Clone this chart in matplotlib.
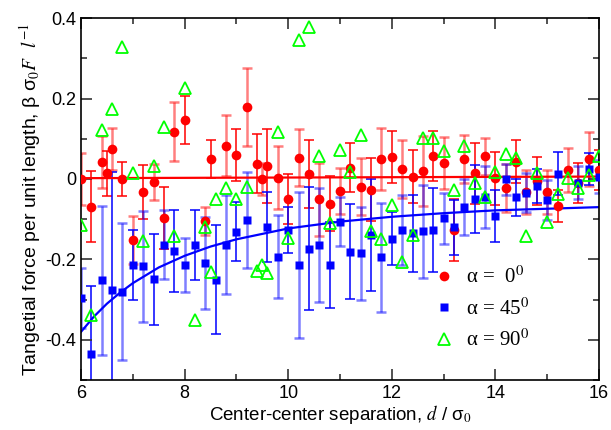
import matplotlib
matplotlib.use('Agg')
import matplotlib.pyplot as plt
from matplotlib.ticker import MultipleLocator

# alpha = 0 deg
x0 = [6.0, 6.2, 6.4, 6.5, 6.6, 6.8, 7.0, 7.2, 7.4, 7.6, 7.8, 8.0, 8.4, 8.5, 8.8,
      9.0, 9.2, 9.4, 9.5, 9.6, 9.8, 10.0, 10.2, 10.4, 10.6, 10.8, 11.0, 11.2, 11.4,
      11.6, 11.8, 12.0, 12.2, 12.4, 12.6, 12.8, 13.0, 13.2, 13.4, 13.6, 13.8, 14.0,
      14.2, 14.4, 14.6, 14.8, 15.0, 15.2, 15.4, 15.6, 15.8, 16.0]
y0 = [0.0, -0.069, 0.043, 0.014, 0.075, 0.0, -0.152, -0.032, -0.008, -0.097, 0.118,
      0.147, -0.104, 0.05, 0.083, 0.06, 0.178, 0.038, 0.0, 0.032, 0.003, -0.05,
      0.053, 0.013, -0.051, -0.061, -0.03, 0.028, -0.019, -0.027, 0.049, 0.054,
      0.025, 0.006, 0.02, 0.057, 0.039, -0.127, 0.05, 0.014, 0.056, 0.002, -0.022,
      0.043, -0.032, -0.005, -0.032, -0.067, 0.022, -0.01, 0.05, 0.022]
e0 = [0.065, 0.088, 0.065, 0.056, 0.052, 0.043, 0.06, 0.067, 0.045, 0.077, 0.073,
      0.06, 0.035, 0.048, 0.076, 0.064, 0.097, 0.073, 0.04, 0.092, 0.078, 0.062,
      0.07, 0.085, 0.09, 0.068, 0.058, 0.061, 0.07, 0.078, 0.077, 0.065, 0.072,
      0.065, 0.088, 0.062, 0.065, 0.077, 0.059, 0.076, 0.046, 0.066, 0.06, 0.054,
      0.055, 0.06, 0.055, 0.04, 0.055, 0.05, 0.067, 0.05]

# alpha = 45 deg
x45 = [6.0, 6.2, 6.4, 6.6, 6.8, 7.0, 7.2, 7.4, 7.6, 7.8, 8.0, 8.2, 8.4, 8.6, 8.8,
       9.0, 9.2, 9.6, 9.8, 10.0, 10.2, 10.4, 10.6, 10.8, 11.0, 11.2, 11.4, 11.6,
       11.8, 12.0, 12.2, 12.4, 12.6, 12.8, 13.0, 13.2, 13.4, 13.6, 13.8, 14.0,
       14.2, 14.4, 14.6, 14.8, 15.0, 15.2, 15.6, 15.8, 16.0]
y45 = [-0.296, -0.434, -0.252, -0.275, -0.28, -0.214, -0.217, -0.249, -0.163,
       -0.179, -0.214, -0.164, -0.208, -0.25, -0.163, -0.131, -0.102, -0.12,
       -0.193, -0.127, -0.214, -0.173, -0.164, -0.214, -0.106, -0.181, -0.185,
       -0.139, -0.195, -0.148, -0.127, -0.135, -0.13, -0.127, -0.098, -0.12,
       -0.07, -0.05, -0.044, -0.092, -0.001, -0.046, -0.034, -0.017, -0.052,
       0.013, -0.009, 0.024, 0.006]
e45 = [0.075, 0.168, 0.185, 0.293, 0.17, 0.087, 0.138, 0.113, 0.085, 0.103, 0.068,
       0.088, 0.114, 0.135, 0.124, 0.074, 0.119, 0.087, 0.103, 0.058, 0.181, 0.153,
       0.142, 0.106, 0.06, 0.118, 0.116, 0.139, 0.135, 0.066, 0.088, 0.095, 0.116,
       0.105, 0.064, 0.068, 0.07, 0.085, 0.077, 0.065, 0.038, 0.045, 0.048, 0.042,
       0.05, 0.053, 0.042, 0.04, 0.04]

# alpha = 90 deg
x90 = [6.0, 6.2, 6.4, 6.6, 6.8, 7.0, 7.2, 7.4, 7.6, 7.8, 8.0, 8.2, 8.4, 8.5, 8.6,
       8.8, 9.0, 9.2, 9.4, 9.5, 9.6, 9.8, 10.0, 10.2, 10.4, 10.6, 10.8, 11.0, 11.2,
       11.4, 11.6, 11.8, 12.0, 12.2, 12.4, 12.6, 12.8, 13.0, 13.2, 13.4, 13.6,
       13.8, 14.0, 14.2, 14.4, 14.6, 14.8, 15.0, 15.2, 15.4, 15.6, 15.8, 16.0]
y90 = [-0.115, -0.339, 0.122, 0.174, 0.327, 0.014, -0.154, 0.033, 0.13, -0.141,
       0.226, -0.351, -0.119, -0.231, -0.05, -0.022, -0.05, -0.019, -0.229,
       -0.214, -0.233, 0.118, -0.146, 0.346, 0.379, 0.056, -0.11, 0.072, 0.018,
       0.11, -0.13, -0.148, -0.065, -0.206, -0.139, 0.101, 0.101, 0.07, -0.027,
       0.081, -0.009, -0.046, 0.017, 0.061, 0.051, -0.141, 0.016, -0.106, -0.037,
       0.003, -0.023, 0.01, 0.056]

# fitted curves
fit0_x = [6.0, 16.0]
fit0_y = [0.002, 0.006]
fit45_x = [6.0, 6.25, 6.5, 6.75, 7.0, 7.5, 8.0, 8.5, 9.0, 10.0, 11.0, 12.0, 13.0,
           14.0, 15.0, 16.0]
fit45_y = [-0.380, -0.342, -0.310, -0.283, -0.259, -0.220, -0.191, -0.168, -0.150,
           -0.123, -0.106, -0.094, -0.085, -0.078, -0.074, -0.070]

plt.rcParams['font.family'] = ['Liberation Sans', 'DejaVu Sans']
plt.rcParams['mathtext.fontset'] = 'stix'

fig = plt.figure(figsize=(6.11, 4.30), dpi=100)
ax = fig.add_axes([0.1326, 0.116, 0.8477, 0.842])


def bars(x, y, e, col):
    # the bars in the original alternate between a pale and a solid shade
    for k in (0, 1):
        xs, ys, es = x[k::2], y[k::2], e[k::2]
        if k == 0:
            ax.errorbar(xs, ys, yerr=es, fmt='none', ecolor=col, alpha=0.5,
                        elinewidth=1.8, capsize=3.5, capthick=1.8, zorder=1)
        else:
            ax.errorbar(xs, ys, yerr=es, fmt='none', ecolor=col,
                        elinewidth=1.1, capsize=3.5, capthick=1.1, zorder=1)


bars(x0, y0, e0, '#ff0000')
bars(x45, y45, e45, '#0000ff')

ax.plot(fit0_x, fit0_y, color='#ff0000', lw=1.6, zorder=2)
ax.plot(fit45_x, fit45_y, color='#0000ff', lw=1.6, zorder=2)

ax.plot(x0, y0, 'o', color='#ff0000', ms=7, mec='none', zorder=3,
        label='α =  0$^0$')
ax.plot(x45, y45, 's', color='#0000ff', ms=6, mec='none', zorder=3,
        label='α = 45$^0$')
ax.plot(x90, y90, '^', mfc='none', mec='#00ff00', mew=1.3, ms=8, ls='none',
        zorder=4, label='α = 90$^0$')

ax.set_xlim(6, 16)
ax.set_ylim(-0.5, 0.4)
ax.xaxis.set_major_locator(MultipleLocator(2))
ax.xaxis.set_minor_locator(MultipleLocator(1))
ax.yaxis.set_minor_locator(MultipleLocator(0.1))
ax.set_yticks([-0.4, -0.2, 0, 0.2, 0.4])
ax.set_yticklabels(['-0.4', '-0.2', '0', '0.2', '0.4'])
ax.tick_params(which='both', direction='in', top=True, right=True,
               labelsize=13, width=1.2, color='#333333')
ax.tick_params(which='major', length=8)
ax.tick_params(which='minor', length=4)
for s in ax.spines.values():
    s.set_linewidth(1.2)

ax.set_xlabel(r'Center-center separation, $d$ / σ$_0$', fontsize=13.5, labelpad=1)
ax.set_ylabel(r'Tangetial force per unit length, β σ$_0$$F$  $l^{-1}$',
              fontsize=14, labelpad=2)

ax.legend(loc='center left', bbox_to_anchor=(0.649, 0.197), frameon=False,
          prop={'family': 'Liberation Serif', 'size': 15},
          handlelength=1.0, handletextpad=0.55, labelspacing=0.48,
          borderpad=0.3)

fig.savefig('out.png', dpi=100)
